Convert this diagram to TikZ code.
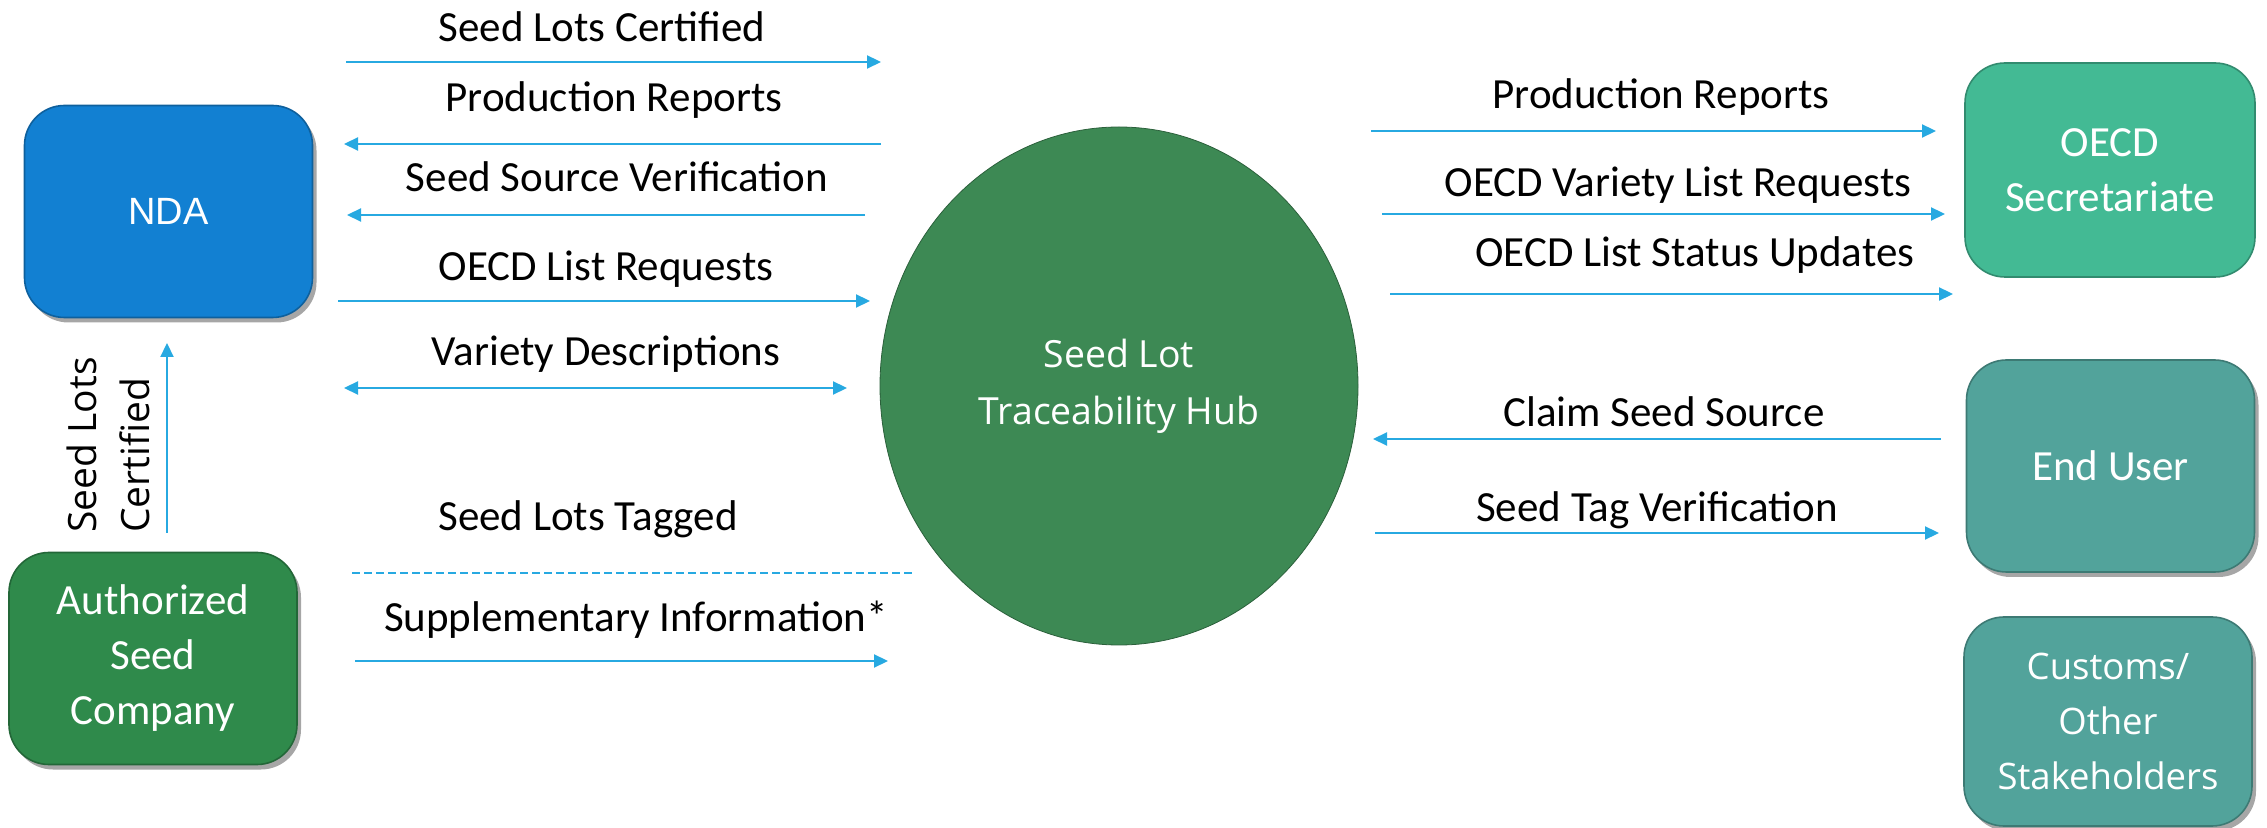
\documentclass[tikz,border=0pt]{standalone}
\usepackage{fontspec}
\setmainfont{Carlito}
\newfontfamily\hubfont{Open Sans}
\newfontfamily\ndafont{Liberation Sans}
\usetikzlibrary{arrows.meta,shapes.geometric,shadows}
\definecolor{flowblue}{HTML}{27A9E1}
\definecolor{ndablue}{HTML}{1280D2}
\definecolor{seedgreen}{HTML}{2F8A4B}
\definecolor{hubgreen}{HTML}{3D8954}
\definecolor{oecdteal}{HTML}{43BA94}
\definecolor{userteal}{HTML}{52A39B}
\begin{document}
\begin{tikzpicture}[x=0.5pt, y=-0.5pt,
  box/.style={rectangle, rounded corners=20pt, minimum width=144pt, minimum height=106pt,
    text=white, align=center, inner sep=0pt, line width=0.8pt,
    font=\fontsize{21.5}{27.5}\selectfont},
  shade box/.style={box, drop shadow={shadow xshift=2pt, shadow yshift=-2.5pt, opacity=0.35, fill=black}},
  lbl/.style={anchor=base, inner sep=0pt, font=\fontsize{21.5}{26}\selectfont},
  flow/.style={draw=flowblue, line width=1.1pt, -{Triangle[length=7pt,width=6.5pt]}},
  both ways/.style={{Triangle[length=7pt,width=6.5pt]}-{Triangle[length=7pt,width=6.5pt]}}]
\useasboundingbox (0,0) rectangle (2267,828);

\node[shade box, fill=ndablue, draw=ndablue!75!black, font=\ndafont\fontsize{19}{24}\selectfont] (nda) at (168.5,211.5) {NDA};
\node[shade box, fill=seedgreen, draw=seedgreen!75!black] (company) at (153,658.5) {Authorized\\Seed\\Company};
\node[ellipse, fill=hubgreen, draw=hubgreen!70!black, minimum width=239pt, minimum height=259pt,
  inner sep=0pt, text=white, align=center, font=\hubfont\fontsize{18.7}{28.5}\selectfont] (hub) at (1119,386) {Seed Lot\\Traceability Hub};
\node[box, fill=oecdteal, draw=oecdteal!75!black, minimum width=145pt, minimum height=107pt] (oecd) at (2110,170) {OECD\\Secretariate};
\node[shade box, fill=userteal, draw=userteal!75!black] (user) at (2110.5,466) {End User};
\node[shade box, fill=userteal, draw=userteal!75!black, minimum height=104.5pt,
  font=\hubfont\fontsize{18.25}{27.5}\selectfont] (customs) at (2108,721.5) {Customs/\\Other\\Stakeholders};

\node[lbl] (slc) at (602,42) {Seed Lots Certified};
\node[lbl] (prl) at (614,112) {Production Reports};
\node[lbl] (ssv) at (617,192) {Seed Source Verification};
\node[lbl] (olr) at (606,281) {OECD List Requests};
\node[lbl] (vd) at (606,366) {Variety Descriptions};
\node[lbl] (slt) at (588,531) {Seed Lots Tagged};
\node[lbl] (si) at (636,632) {Supplementary Information*};
\node[lbl] (prr) at (1661,109) {Production Reports};
\node[lbl] (ovl) at (1678,197) {OECD Variety List Requests};
\node[lbl] (osu) at (1695,267) {OECD List Status Updates};
\node[lbl] (css) at (1664,427) {Claim Seed Source};
\node[lbl] (stv) at (1657,522) {Seed Tag Verification};
\node[rotate=90, align=left, inner sep=0pt, font=\hubfont\fontsize{19.5}{26.5}\selectfont] (certlbl) at (108,445) {Seed Lots\\Certified};

\foreach \n/\xa/\xb/\yy in {slc/346/881/62, prl/344/881/144, ssv/347/865/215, olr/338/870/301,
  vd/344/847/388, slt/352/912/573, si/355/888/661, prr/1371/1936/131, ovl/1382/1945/214,
  osu/1390/1953/294, css/1373/1941/439, stv/1375/1939/533}
  {\coordinate (\n-w) at (\xa,\yy); \coordinate (\n-e) at (\xb,\yy);}
\coordinate (up-s) at (167,533);
\coordinate (up-n) at (167,343);

\draw[flow] (slc-w) -- (slc-e);
\draw[flow] (prl-e) -- (prl-w);
\draw[flow] (ssv-e) -- (ssv-w);
\draw[flow] (olr-w) -- (olr-e);
\draw[flow, both ways] (vd-w) -- (vd-e);
\draw[flow, -, dash pattern=on 3.8pt off 2.2pt] (slt-w) -- (slt-e);
\draw[flow] (si-w) -- (si-e);
\draw[flow] (up-s) -- (up-n);
\draw[flow] (prr-w) -- (prr-e);
\draw[flow] (ovl-w) -- (ovl-e);
\draw[flow] (osu-w) -- (osu-e);
\draw[flow] (css-e) -- (css-w);
\draw[flow] (stv-w) -- (stv-e);
\end{tikzpicture}
\end{document}
